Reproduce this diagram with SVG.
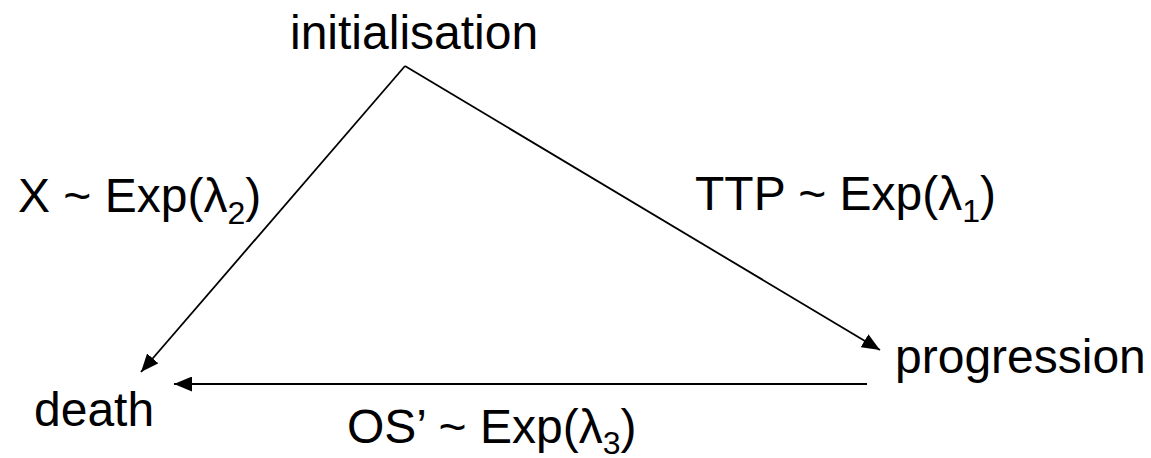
<svg xmlns="http://www.w3.org/2000/svg" width="1151" height="458" viewBox="0 0 1151 458">
  <style>
    text { font-family: "Liberation Sans", Arial, sans-serif; font-size: 48px; fill: #000; }
    .sub { font-size: 32px; }
    .edge { stroke: #000; stroke-width: 1.8; fill: none; marker-end: url(#arrow); }
  </style>
  <defs>
    <marker id="arrow" markerUnits="userSpaceOnUse" markerWidth="19" markerHeight="15" refX="18" refY="7.5" orient="auto">
      <path d="M0,0 L18,7.5 L0,15 z" fill="#000"/>
    </marker>
  </defs>
  <rect width="1151" height="458" fill="#fff"/>
  <g id="connectors">
    <line class="edge" x1="405" y1="66" x2="141" y2="372"/>
    <line class="edge" x1="405" y1="66" x2="880" y2="350"/>
    <line class="edge" x1="867" y1="384" x2="174" y2="384"/>
  </g>
  <g id="labels">
    <text x="18" y="212">X ~ Exp(λ<tspan class="sub" dy="12">2</tspan><tspan dy="-12">)</tspan></text>
    <text x="695" y="210">TTP ~ Exp(λ<tspan class="sub" dy="12">1</tspan><tspan dy="-12">)</tspan></text>
    <text x="347" y="443">OS’ ~ Exp(λ<tspan class="sub" dy="11">3</tspan><tspan dy="-11">)</tspan></text>
  </g>
  <g id="initialisation"><text x="290" y="49">initialisation</text></g>
  <g id="death"><text x="34" y="426">death</text></g>
  <g id="progression"><text x="895" y="373">progression</text></g>
</svg>
